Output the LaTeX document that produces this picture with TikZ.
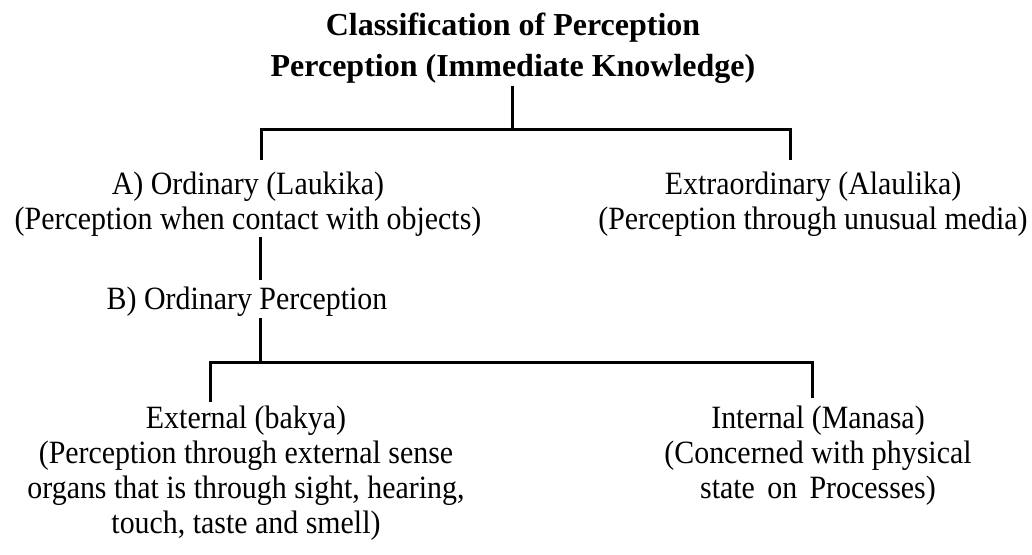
\documentclass[tikz,border=0pt]{standalone}
\usepackage{fontspec}
\setmainfont{Liberation Serif}
\newfontfamily\bodyfont[FakeStretch=0.92]{Liberation Serif}
\newcommand{\mlines}[1]{\begin{tabular}[t]{@{}c@{}}#1\end{tabular}}
\tikzset{
  body/.style={font=\bodyfont\fontsize{32.5}{35}\selectfont, inner sep=0pt, anchor=base},
  head/.style={font=\bfseries\fontsize{32}{41}\selectfont, inner sep=0pt, anchor=base},
  conn/.style={line width=3pt, line join=miter, line cap=butt},
}
\begin{document}
\begin{tikzpicture}[x=1pt,y=-1pt]
\useasboundingbox (0,0) rectangle (1032,554);
% texts
\node[head] (title) at (513,35) {\mlines{Classification of Perception\\Perception (Immediate Knowledge)}};
\node[body] (ord) at (248,194) {\mlines{A) Ordinary (Laukika)\\(Perception when contact with objects)}};
\node[body] (ext) at (813,194) {\mlines{Extraordinary (Alaulika)\\(Perception through unusual media)}};
\node[body] (ordp) at (247,309) {B) Ordinary Perception};
\node[body] (outer) at (246,428) {\mlines{External (bakya)\\(Perception through external sense\\organs that is through sight, hearing,\\touch, taste and smell)}};
\node[body] (inner) at (818,428) {\mlines{Internal (Manasa)\\(Concerned with physical\\state\hspace{0.15em} on\hspace{0.15em} Processes)}};
% junction coordinates
\coordinate (tS) at (512,86);
\coordinate (tJ) at (512,129);
\coordinate (oT) at (261,160);
\coordinate (eT) at (790,160);
\coordinate (oS) at (260,237);
\coordinate (bN) at (260,280);
\coordinate (bS) at (260,318);
\coordinate (bJ) at (260,362);
\coordinate (xT) at (210,402);
\coordinate (iT) at (812,398);
% connectors
\draw[conn] (tS) -- (tJ);
\draw[conn] (oT) |- (tJ) -| (eT);
\draw[conn] (oS) -- (bN);
\draw[conn] (bS) -- (bJ);
\draw[conn] (xT) |- (bJ) -| (iT);
\end{tikzpicture}
\end{document}
